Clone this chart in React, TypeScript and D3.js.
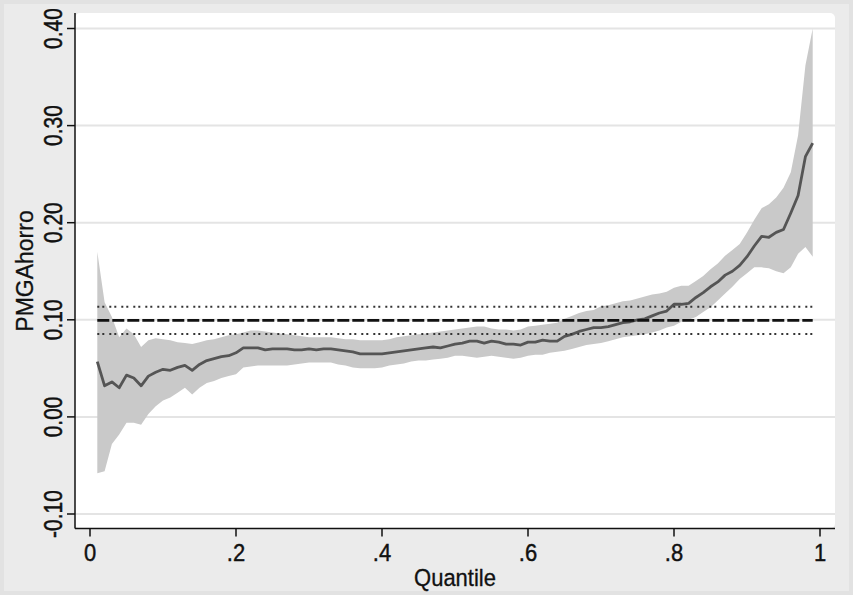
import React from "react";
import * as d3 from "d3";

const quantiles: number[] = d3.range(1, 100).map((i) => i / 100);

const estimate: number[] = [
  0.057, 0.032, 0.036, 0.030, 0.043, 0.040, 0.032, 0.042, 0.046, 0.049,
  0.048, 0.051, 0.053, 0.048, 0.054, 0.058, 0.060, 0.062, 0.063, 0.066,
  0.071, 0.071, 0.071, 0.069, 0.070, 0.070, 0.070, 0.069, 0.069, 0.070,
  0.069, 0.070, 0.070, 0.069, 0.068, 0.067, 0.065, 0.065, 0.065, 0.065,
  0.066, 0.067, 0.068, 0.069, 0.070, 0.071, 0.072, 0.071, 0.073, 0.075,
  0.076, 0.078, 0.078, 0.076, 0.078, 0.077, 0.075, 0.075, 0.074, 0.077,
  0.077, 0.079, 0.078, 0.078, 0.083, 0.085, 0.088, 0.090, 0.092, 0.092,
  0.093, 0.095, 0.097, 0.098, 0.100, 0.101, 0.104, 0.107, 0.109, 0.116,
  0.116, 0.117, 0.123, 0.128, 0.134, 0.139, 0.146, 0.150, 0.156, 0.165,
  0.176, 0.186, 0.185, 0.190, 0.193, 0.210, 0.228, 0.268, 0.282,
];

const upper: number[] = [
  0.170, 0.118, 0.103, 0.082, 0.091, 0.085, 0.072, 0.079, 0.081, 0.080,
  0.079, 0.077, 0.076, 0.075, 0.077, 0.079, 0.080, 0.082, 0.084, 0.085,
  0.087, 0.089, 0.089, 0.088, 0.087, 0.086, 0.085, 0.084, 0.083, 0.082,
  0.082, 0.082, 0.082, 0.081, 0.080, 0.080, 0.079, 0.079, 0.079, 0.079,
  0.080, 0.082, 0.083, 0.084, 0.085, 0.086, 0.087, 0.088, 0.089, 0.090,
  0.091, 0.092, 0.093, 0.093, 0.091, 0.090, 0.090, 0.089, 0.090, 0.093,
  0.094, 0.095, 0.096, 0.097, 0.101, 0.104, 0.107, 0.109, 0.110, 0.114,
  0.115, 0.117, 0.119, 0.120, 0.122, 0.124, 0.126, 0.127, 0.129, 0.133,
  0.135, 0.135, 0.140, 0.145, 0.152, 0.158, 0.166, 0.172, 0.178, 0.190,
  0.203, 0.215, 0.219, 0.226, 0.236, 0.252, 0.290, 0.362, 0.400,
];

const lower: number[] = [
  -0.058, -0.056, -0.028, -0.018, -0.006, -0.006, -0.008, 0.003, 0.011, 0.017,
  0.020, 0.025, 0.030, 0.023, 0.030, 0.035, 0.037, 0.040, 0.042, 0.044,
  0.051, 0.052, 0.053, 0.053, 0.053, 0.053, 0.053, 0.054, 0.055, 0.056,
  0.056, 0.056, 0.056, 0.054, 0.053, 0.051, 0.050, 0.050, 0.050, 0.051,
  0.053, 0.054, 0.055, 0.057, 0.058, 0.058, 0.059, 0.060, 0.061, 0.063,
  0.063, 0.062, 0.061, 0.062, 0.063, 0.062, 0.061, 0.060, 0.061, 0.063,
  0.064, 0.064, 0.066, 0.067, 0.068, 0.070, 0.072, 0.074, 0.075, 0.076,
  0.078, 0.080, 0.082, 0.083, 0.084, 0.085, 0.087, 0.089, 0.092, 0.094,
  0.098, 0.100, 0.103, 0.108, 0.113, 0.120, 0.127, 0.134, 0.142, 0.148,
  0.154, 0.154, 0.153, 0.150, 0.148, 0.154, 0.168, 0.175, 0.165,
];

const olsEstimate = 0.0995;
const olsUpper = 0.1135;
const olsLower = 0.0855;

const yTicks: number[] = [-0.1, 0, 0.1, 0.2, 0.3, 0.4];
const yTickLabels: string[] = ["-0.10", "0.00", "0.10", "0.20", "0.30", "0.40"];
const xTicks: number[] = [0, 0.2, 0.4, 0.6, 0.8, 1];
const xTickLabels: string[] = ["0", ".2", ".4", ".6", ".8", "1"];

const W = 853;
const H = 595;
const FONT = "'Liberation Sans', Arial, Helvetica, sans-serif";

export default function App() {
  const x = d3.scaleLinear().domain([0, 1]).range([90, 820]);
  const y = d3.scaleLinear().domain([-0.1, 0.4]).range([514, 28.5]);

  const plotLeft = 75;
  const plotRight = 835;
  const plotTop = 13;
  const plotBottom = 528.5;

  const area = d3
    .area<number>()
    .x((_, i) => x(quantiles[i]))
    .y0((_, i) => y(lower[i]))
    .y1((_, i) => y(upper[i]));

  const line = d3
    .line<number>()
    .x((_, i) => x(quantiles[i]))
    .y((d) => y(d));

  const x0 = x(quantiles[0]);
  const x1 = x(quantiles[quantiles.length - 1]);

  const textStyle = { paintOrder: "stroke" as const };

  return (
    <svg
      width={W}
      height={H}
      style={{ position: "absolute", left: 0, top: 0, display: "block" }}
    >
      <rect x={0} y={0} width={W} height={H} fill="#e2e2e2" />
      <rect x={4} y={4} width={W - 8} height={H - 8} fill="#ebebeb" />
      <rect
        x={plotLeft}
        y={plotTop}
        width={plotRight - plotLeft}
        height={plotBottom - plotTop}
        rx={5}
        fill="#ffffff"
      />
      {yTicks.map((t) => (
        <line
          key={"g" + t}
          x1={plotLeft}
          x2={plotRight}
          y1={y(t)}
          y2={y(t)}
          stroke="#e4e4e4"
          strokeWidth={2}
        />
      ))}
      <path d={area(estimate) || ""} fill="#c9c9c9" stroke="none" />
      <path
        d={line(estimate) || ""}
        fill="none"
        stroke="#555555"
        strokeWidth={2.8}
        strokeLinejoin="round"
      />
      <line
        x1={x0}
        x2={x1}
        y1={y(olsUpper)}
        y2={y(olsUpper)}
        stroke="#333"
        strokeWidth={2}
        strokeDasharray="2,3,2,5"
      />
      <line
        x1={x0}
        x2={x1}
        y1={y(olsLower)}
        y2={y(olsLower)}
        stroke="#333"
        strokeWidth={2}
        strokeDasharray="2,3,2,5"
      />
      <line
        x1={x0}
        x2={x1}
        y1={y(olsEstimate)}
        y2={y(olsEstimate)}
        stroke="#111"
        strokeWidth={2.8}
        strokeDasharray="12,3"
      />
      {/* axes */}
      <line
        x1={plotLeft}
        x2={plotLeft}
        y1={plotTop}
        y2={plotBottom}
        stroke="#111"
        strokeWidth={1.5}
      />
      <line
        x1={plotLeft}
        x2={plotRight}
        y1={plotBottom}
        y2={plotBottom}
        stroke="#111"
        strokeWidth={1.5}
      />
      {yTicks.map((t, i) => (
        <g key={"yt" + t}>
          <line
            x1={plotLeft - 8}
            x2={plotLeft}
            y1={y(t)}
            y2={y(t)}
            stroke="#111"
            strokeWidth={1.5}
          />
          <text
            transform={`translate(62,${y(t)}) rotate(-90) scale(1,1.22)`}
            textAnchor="middle"
            fontFamily={FONT}
            fontSize={21}
            fill="#111"
            stroke="#111"
            strokeWidth={0.4}
            style={textStyle}
          >
            {yTickLabels[i]}
          </text>
        </g>
      ))}
      {xTicks.map((t, i) => (
        <g key={"xt" + t}>
          <line
            x1={x(t)}
            x2={x(t)}
            y1={plotBottom}
            y2={plotBottom + 8}
            stroke="#111"
            strokeWidth={1.5}
          />
          <text
            x={x(t)}
            y={561}
            textAnchor="middle"
            fontFamily={FONT}
            fontSize={22}
            fill="#111"
            stroke="#111"
            strokeWidth={0.4}
            transform={`translate(0,${561 * -0.08}) scale(1,1.08)`}
          >
            {xTickLabels[i]}
          </text>
        </g>
      ))}
      <text
        transform={`translate(33,271) rotate(-90) scale(1,1.05)`}
        textAnchor="middle"
        fontFamily={FONT}
        fontSize={23}
        fill="#111"
        stroke="#111"
        strokeWidth={0.3}
      >
        PMGAhorro
      </text>
      <text
        x={455}
        y={586}
        textAnchor="middle"
        fontFamily={FONT}
        fontSize={22}
        fill="#111"
        stroke="#111"
        strokeWidth={0.3}
        transform={`translate(0,${586 * -0.08}) scale(1,1.08)`}
      >
        Quantile
      </text>
    </svg>
  );
}
